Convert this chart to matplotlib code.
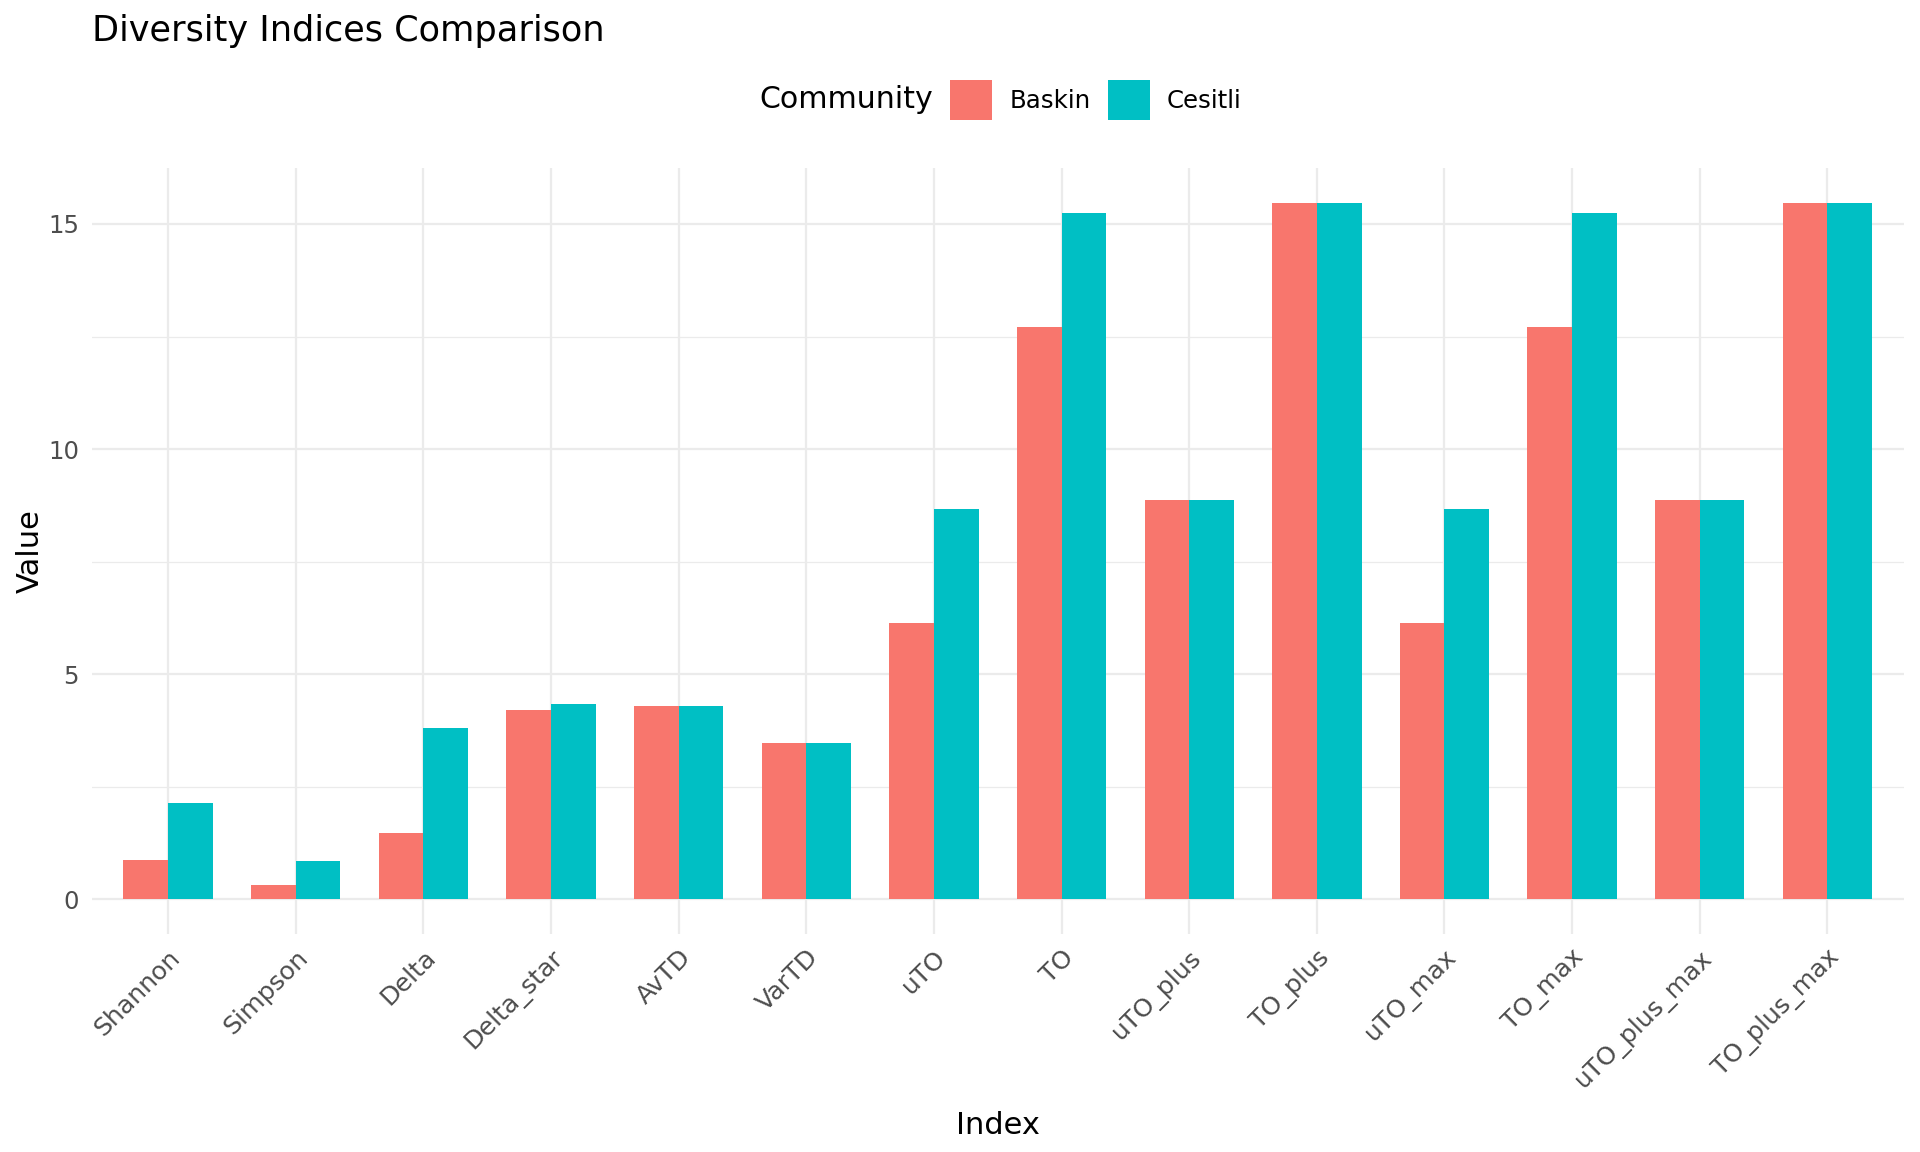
import matplotlib
matplotlib.use("Agg")
import matplotlib.pyplot as plt
import numpy as np
from matplotlib.patches import Patch

indices = ["Shannon", "Simpson", "Delta", "Delta_star", "AvTD", "VarTD", "uTO", "TO",
           "uTO_plus", "TO_plus", "uTO_max", "TO_max", "uTO_plus_max", "TO_plus_max"]
baskin = [0.87, 0.32, 1.47, 4.20, 4.29, 3.47, 6.14, 12.72, 8.87, 15.47, 6.14, 12.72, 8.87, 15.47]
cesitli = [2.14, 0.85, 3.80, 4.33, 4.29, 3.47, 8.67, 15.25, 8.87, 15.47, 8.67, 15.25, 8.87, 15.47]
groups = ["Baskin", "Cesitli"]
colors = ["#F8766D", "#00BFC4"]
yticks = [0, 5, 10, 15]

plt.rcParams['font.family'] = ['DejaVu Sans']

fig = plt.figure(figsize=(19.2, 11.52), dpi=100)
ax = fig.add_axes([91.5 / 1920, 1 - 934 / 1152, (1904 - 91.5) / 1920, (934 - 168) / 1152])

x = np.arange(1, len(indices) + 1)
w = 0.35
ax.bar(x - w / 2, baskin, width=w, color=colors[0], zorder=3, linewidth=0)
ax.bar(x + w / 2, cesitli, width=w, color=colors[1], zorder=3, linewidth=0)

ymax = max(max(baskin), max(cesitli))
pad = 0.05 * ymax
ax.set_ylim(-pad, ymax + pad)
ax.set_xlim(0.4, len(indices) + 0.6)

ax.set_yticks(yticks)
ax.set_yticks([2.5, 7.5, 12.5], minor=True)
ax.set_xticks(x)
ax.set_xticklabels(indices, rotation=45, ha='right', va='top', rotation_mode='anchor')
ax.grid(True, which='major', axis='both', color='#EBEBEB', linewidth=1.6, zorder=0)
ax.grid(True, which='minor', axis='y', color='#EBEBEB', linewidth=0.9, zorder=0)
ax.set_axisbelow(True)
for s in ax.spines.values():
    s.set_visible(False)
ax.tick_params(axis='both', which='both', length=0, labelsize=17.6, labelcolor='#4D4D4D')
ax.tick_params(axis='x', labelsize=18.2, pad=8)
ax.tick_params(axis='y', pad=9)

ax.set_xlabel("Index", fontsize=22, color='black', labelpad=13)
ax.set_ylabel("Value", fontsize=22, color='black', labelpad=2)

fig.text(92 / 1920, 1 - 31 / 1152, "Diversity Indices Comparison", fontsize=25.3,
         ha='left', va='center', color='black')

fig.text(933 / 1920, 1 - 100 / 1152, "Community", fontsize=21.6, ha='right', va='center', color='black')
handles = [Patch(facecolor=colors[i], edgecolor='none') for i in range(2)]
fig.legend(handles, groups, loc='center left', bbox_to_anchor=(950 / 1920, 1 - 100 / 1152),
           ncol=2, frameon=False, fontsize=17.6, handlelength=1.72, handleheight=2.2,
           handletextpad=0.7, columnspacing=0.7, borderpad=0, borderaxespad=0)

fig.savefig("out.png", dpi=100, facecolor='white')
